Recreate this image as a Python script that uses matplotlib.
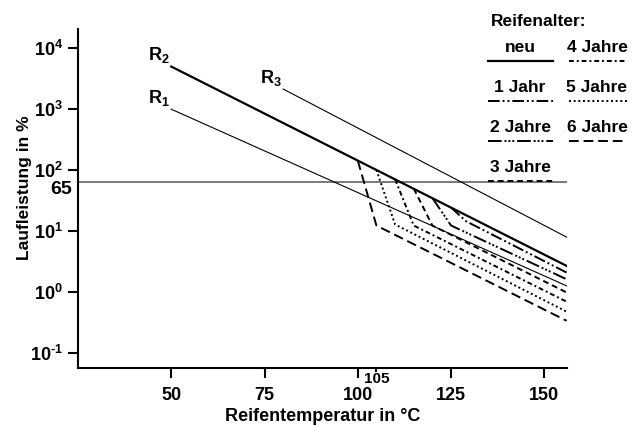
import matplotlib
matplotlib.use("Agg")
import matplotlib.pyplot as plt
import matplotlib.transforms as mtransforms
from matplotlib.lines import Line2D
from matplotlib.ticker import NullLocator

plt.rcParams['font.family'] = ['Liberation Sans', 'DejaVu Sans']
plt.rcParams['font.weight'] = 'bold'
plt.rcParams['mathtext.fontset'] = 'custom'
plt.rcParams['mathtext.rm'] = 'Liberation Sans:bold'
plt.rcParams['mathtext.bf'] = 'Liberation Sans:bold'
plt.rcParams['mathtext.it'] = 'Liberation Sans:bold'

# reference lines R1..R3 (temperature in degC, Laufleistung in %)
r1_temp = [50, 156]
r1_life = [1000, 1.27]
r2_temp = [50, 156]
r2_life = [5000, 2.7]
r3_temp = [80, 156]
r3_life = [2140, 8.0]

# tyre age curves: break off R2, drop, then run parallel
age_names = ['1 Jahr', '2 Jahre', '3 Jahre', '4 Jahre', '5 Jahre', '6 Jahre']
age_temp = [
    [125, 129, 156],
    [120, 125, 156],
    [115, 120, 156],
    [110, 115, 156],
    [105, 110, 156],
    [100, 105, 156],
]
age_life = [
    [24.5, 14.6, 2.1],
    [35, 12.4, 1.63],
    [50, 12.4, 0.99],
    [71, 12.4, 0.70],
    [101, 12.9, 0.48],
    [144, 12.4, 0.34],
]
age_styles = [
    (0, (6, 1.5, 1, 1.5, 1, 1.5)),
    (0, (7, 1.5, 1, 1, 1, 1, 1, 1.5)),
    (0, (3, 2)),
    (0, (2.5, 1.5, 1, 1.5)),
    (0, (1, 1.4)),
    (0, (5, 2.5)),
]

limit_life = 65
x_ticks = [50, 75, 100, 125, 150]
y_ticks = [0.1, 1, 10, 100, 1000, 10000]
y_labels = [r'$10^{\text{-}1}$', r'$10^{0}$', r'$10^{1}$', r'$10^{2}$', r'$10^{3}$', r'$10^{4}$']

fig = plt.figure(figsize=(6.35, 4.26), dpi=100)
ax = fig.add_axes([0.1228, 0.1369, 0.7696, 0.7951])

ax.axhline(limit_life, color='#555555', lw=1.1)
ax.plot(r1_temp, r1_life, color='black', lw=0.8)
ax.plot(r3_temp, r3_life, color='black', lw=0.8)
ax.plot(r2_temp, r2_life, color='black', lw=1.6)
for t, l, ls in zip(age_temp, age_life, age_styles):
    ax.plot(t, l, color='black', lw=1.4, linestyle=ls)

ax.set_yscale('log')
ax.set_xlim(25, 156)
ax.set_ylim(0.058, 20650)

ax.set_yticks(y_ticks + [limit_life], labels=y_labels + ['65'])
ax.yaxis.set_minor_locator(NullLocator())
ax.set_xticks(x_ticks)
ax.set_xticks([105], labels=['105'], minor=True)

ax.tick_params(axis='both', which='major', direction='out', length=7, width=1.5,
               labelsize=13)
ax.tick_params(axis='x', which='major', pad=7)
ax.tick_params(axis='x', which='minor', length=3, width=1.5, pad=0, labelsize=11)
ax.tick_params(axis='y', pad=4)

# the 65 tick has no mark and its label sits just under the line
t65 = ax.yaxis.get_major_ticks()[-1]
t65.tick1line.set_visible(False)
t65.label1.set_fontsize(14)
t65.label1.set_transform(t65.label1.get_transform() +
                         mtransforms.ScaledTranslation(6.5 / 72, -4 / 72, fig.dpi_scale_trans))

for s in ['top', 'right']:
    ax.spines[s].set_visible(False)
for s in ['left', 'bottom']:
    ax.spines[s].set_linewidth(1.5)

ax.set_xlabel('Reifentemperatur in °C', fontsize=13, fontweight='bold')
ax.set_ylabel('Laufleistung in %', fontsize=12.5, fontweight='bold')
ax.xaxis.set_label_coords(0.5, -0.12)
ax.yaxis.set_label_coords(-0.095, 0.53)

# R labels at the start of each line
for lab, t, l in [(r'$\mathbf{R_1}$', r1_temp, r1_life),
                  (r'$\mathbf{R_2}$', r2_temp, r2_life),
                  (r'$\mathbf{R_3}$', r3_temp, r3_life)]:
    ax.annotate(lab, xy=(t[0], l[0]), xytext=(-1, 1), textcoords='offset points',
                ha='right', va='bottom', fontsize=13)

# legend drawn by hand in figure pixels
W, H = 635, 426


def fx(px):
    return px / W


def fy(py):
    return 1 - py / H


fig.text(fx(539), fy(22), 'Reifenalter:', ha='center', va='center', fontsize=12.5)
legend_items = [('neu', 'solid')] + list(zip(age_names, age_styles))
col_pos = [(520, 487.5, 552.5), (597, 569, 627)]
row_y = [48, 88, 128, 168]
order = [(0, 0), (0, 1), (0, 2), (0, 3), (1, 0), (1, 1), (1, 2)]
for (name, ls), (c, r) in zip(legend_items, order):
    cx, x0, x1 = col_pos[c]
    ty = row_y[r]
    fig.text(fx(cx), fy(ty), name, ha='center', va='center', fontsize=12.5)
    lw = 1.6 if name == 'neu' else 1.4
    fig.add_artist(Line2D([fx(x0), fx(x1)], [fy(ty + 13), fy(ty + 13)],
                          color='black', lw=lw, linestyle=ls))

fig.savefig('out.png', dpi=100)
